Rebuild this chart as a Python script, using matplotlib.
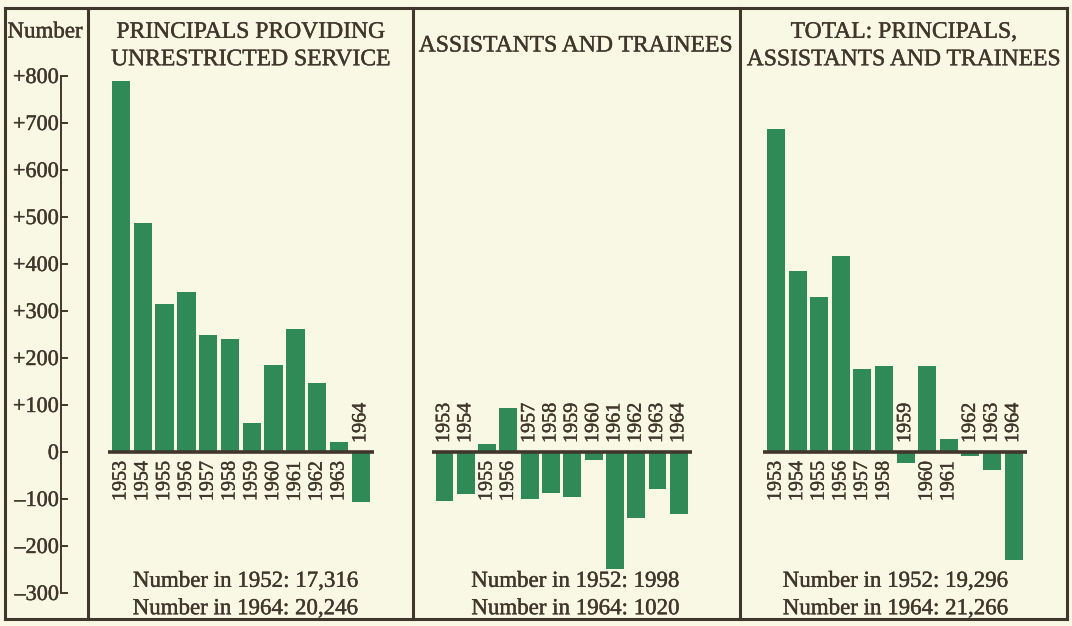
import matplotlib
matplotlib.use("Agg")
import matplotlib.pyplot as plt
from matplotlib.lines import Line2D
import matplotlib.patheffects as pe

# ---------------- data ----------------
years = ["1953", "1954", "1955", "1956", "1957", "1958", "1959", "1960",
         "1961", "1962", "1963", "1964"]
principals = [790, 488, 315, 340, 250, 240, 62, 186, 262, 146, 22, -107]
assistants = [-105, -90, 18, 94, -100, -87, -96, -18, -248, -141, -78, -131]
total = [687, 385, 330, 417, 176, 184, -23, 184, 27, -8, -38, -229]

titles = ["PRINCIPALS PROVIDING\nUNRESTRICTED SERVICE",
          "ASSISTANTS AND TRAINEES",
          "TOTAL: PRINCIPALS,\nASSISTANTS AND TRAINEES"]
notes = ["Number in 1952: 17,316\nNumber in 1964: 20,246",
         "Number in 1952: 1998\nNumber in 1964: 1020",
         "Number in 1952: 19,296\nNumber in 1964: 21,266"]
tick_values = [800, 700, 600, 500, 400, 300, 200, 100, 0, -100, -200, -300]
tick_labels = ["+800", "+700", "+600", "+500", "+400", "+300", "+200",
               "+100", "0", "\u2013100", "\u2013200", "\u2013300"]
axis_label = "Number"

# ---------------- style ----------------
BG = "#f9f8e4"
GREEN = "#2f8a55"
INK = "#40362c"
FONT = "Liberation Serif"
W, H = 1072, 626
ZERO_PX = 452.0
PX_PER_UNIT = 0.47
THICK = [pe.withStroke(linewidth=0.3, foreground=INK)]

plt.rcParams["font.family"] = [FONT, "DejaVu Serif"]

fig = plt.figure(figsize=(W / 100, H / 100), dpi=100, facecolor=BG)

ytop = ZERO_PX / PX_PER_UNIT
ybot = (ZERO_PX - H) / PX_PER_UNIT

def fx(px):
    return px / W

def fy(py):
    return 1 - py / H

# frame lines
frame_kw = dict(color=INK, lw=2.2, transform=fig.transFigure, solid_capstyle="projecting")
top_y, bot_y = 8, 619
for x in [5, 88, 413, 740, 1067]:
    fig.add_artist(Line2D([fx(x), fx(x)], [fy(top_y), fy(bot_y)], **frame_kw))
fig.add_artist(Line2D([fx(5), fx(1067)], [fy(top_y), fy(top_y)], **frame_kw))
fig.add_artist(Line2D([fx(5), fx(1067)], [fy(bot_y), fy(bot_y)], **frame_kw))

# number axis
axn = fig.add_axes([fx(61), 0, fx(20), 1])
axn.set_facecolor("none")
axn.set_ylim(ybot, ytop)
axn.set_xlim(0, 1)
for s in ["top", "right", "bottom"]:
    axn.spines[s].set_visible(False)
axn.spines["left"].set_bounds(-300, 800)
axn.spines["left"].set_color(INK)
axn.spines["left"].set_linewidth(1.4)
axn.set_xticks([])
axn.set_yticks(tick_values)
axn.set_yticklabels(tick_labels)
axn.tick_params(axis="y", direction="in", length=5, width=1.4, color=INK,
                labelcolor=INK, labelsize=16, pad=1.5)
for lab in axn.get_yticklabels():
    lab.set_path_effects(THICK)
fig.text(fx(45), fy(32), axis_label, ha="center", va="center",
         fontsize=16.5, color=INK, path_effects=THICK)

# panels: (x0, x1, first bar centre px, pitch px)
panels = [(88, 413, 121.0, 21.8), (413, 740, 444.5, 21.3), (740, 1067, 776.0, 21.6)]
series = [principals, assistants, total]
title_cx = [251, 576, 904]
note_cx = [245, 575, 895]
label_gap = 9 / PX_PER_UNIT

for (x0, x1, c0, pitch), vals, title, note, tcx, ncx in zip(
        panels, series, titles, notes, title_cx, note_cx):
    ax = fig.add_axes([fx(x0), 0, fx(x1 - x0), 1])
    ax.set_facecolor("none")
    ax.set_xlim((x0 - c0) / pitch, (x1 - c0) / pitch)
    ax.set_ylim(ybot, ytop)
    ax.axis("off")
    xs = list(range(len(years)))
    ax.bar(xs, vals, width=0.84, color=GREEN, edgecolor="none", zorder=2)
    ax.hlines(0, -0.6, len(years) - 0.4, color=INK, lw=2.6, zorder=3)
    for x, v, yr in zip(xs, vals, years):
        if v >= 0:
            ax.text(x, -label_gap, yr, rotation=90, ha="center", va="top",
                    fontsize=14.5, color=INK, path_effects=THICK)
        else:
            ax.text(x, label_gap, yr, rotation=90, ha="center", va="bottom",
                    fontsize=14.5, color=INK, path_effects=THICK)
    fig.text(fx(tcx), fy(46), title, ha="center", va="center", fontsize=17,
             color=INK, linespacing=1.4, path_effects=THICK)
    fig.text(fx(ncx), fy(595), note, ha="center", va="center", fontsize=16.5,
             color=INK, linespacing=1.4, path_effects=THICK)

fig.savefig("out.png", dpi=100, facecolor=BG)
